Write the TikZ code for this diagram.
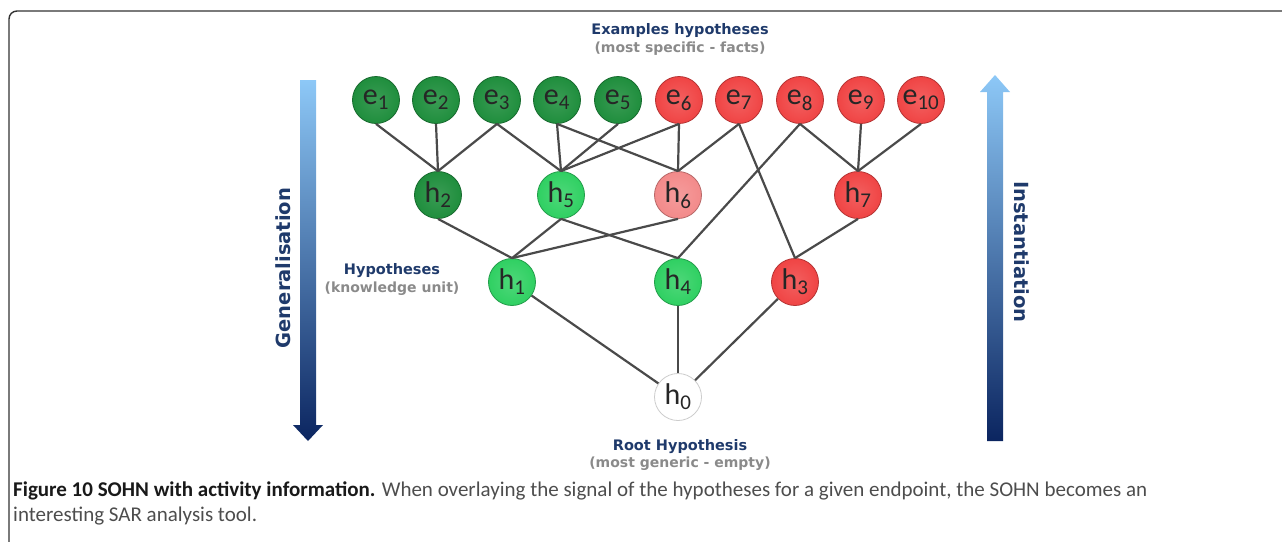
\documentclass[tikz,border=0pt]{standalone}
\usepackage{fontspec}
\setmainfont{Carlito}
\newfontfamily\headfont{DejaVu Sans}
\usepackage{xcolor}
\definecolor{sohnNavy}{HTML}{1F3A6B}
\definecolor{sohnGray}{HTML}{8A8A8A}
\definecolor{sohnEdge}{HTML}{4A4A4A}
\definecolor{sohnDarkGreen}{HTML}{1F8E3D}
\definecolor{sohnGreen}{HTML}{2FD062}
\definecolor{sohnRed}{HTML}{F04444}
\definecolor{sohnPink}{HTML}{F38A8A}
\definecolor{sohnSky}{HTML}{8DC8F7}
\definecolor{sohnDeep}{HTML}{0B2560}
\definecolor{sohnText}{HTML}{4D4D4D}
\usepackage{tikz}
\usetikzlibrary{positioning}
\tikzset{
    hyp/.style={
        circle,
        minimum size=47pt,
        inner sep=0pt,
        line width=0.8pt,
        text=black!85,
        font=\fontsize{30}{30}\selectfont
    },
    darkgreen/.style={hyp, inner color=sohnDarkGreen!88!white, outer color=sohnDarkGreen, draw=sohnDarkGreen!75!black},
    lightgreen/.style={hyp, inner color=sohnGreen!85!white, outer color=sohnGreen, draw=sohnGreen!75!black},
    redhyp/.style={hyp, inner color=sohnRed!85!white, outer color=sohnRed, draw=sohnRed!75!black},
    pinkhyp/.style={hyp, inner color=sohnPink!85!white, outer color=sohnPink, draw=sohnPink!75!black},
    emptyhyp/.style={hyp, fill=white, draw=black!20},
    link/.style={
        draw=sohnEdge,
        line width=2.2pt
    },
    headline/.style={
        font=\headfont\bfseries\fontsize{14.5}{16}\selectfont,
        text=sohnNavy,
        inner sep=0pt
    },
    subline/.style={
        font=\headfont\bfseries\fontsize{14}{16}\selectfont,
        text=sohnGray,
        inner sep=0pt
    },
    sideline/.style={
        font=\headfont\bfseries\fontsize{19.5}{21}\selectfont,
        text=sohnNavy,
        inner sep=0pt
    },
    flow/.style={
        top color=sohnSky,
        bottom color=sohnDeep
    },
    caption/.style={
        font=\fontsize{21}{25}\selectfont,
        text=sohnText,
        align=left,
        inner sep=0pt
    }
}
\begin{document}
\begin{tikzpicture}[x=1pt, y=-1pt]
    \useasboundingbox (0,0) rectangle (1282,541);
    % frame
    \draw[line width=1.4pt, black!80, rounded corners=8pt] (1290,11) -- (9,11) -- (9,550);

    % side arrows
    \shade[flow] (300,80) -- (316,80) -- (316,425) -- (323,425) -- (308,441) -- (293,425) -- (300,425) -- cycle;
    \shade[flow] (987,441) -- (1003,441) -- (1003,92) -- (1010,92) -- (995,75) -- (980,92) -- (987,92) -- cycle;
    \node[sideline, rotate=90] (gen) at (283,268) {Generalisation};
    \node[sideline, rotate=-90] (inst) at (1022,252) {Instantiation};

    % example hypotheses
    \node[darkgreen] (e1) at (376,100) {e\textsubscript{1}};
    \node[darkgreen] (e2) at (436,100) {e\textsubscript{2}};
    \node[darkgreen] (e3) at (497,100) {e\textsubscript{3}};
    \node[darkgreen] (e4) at (557,100) {e\textsubscript{4}};
    \node[darkgreen] (e5) at (618,100) {e\textsubscript{5}};
    \node[redhyp] (e6) at (679,100) {e\textsubscript{6}};
    \node[redhyp] (e7) at (739,100) {e\textsubscript{7}};
    \node[redhyp] (e8) at (800,100) {e\textsubscript{8}};
    \node[redhyp] (e9) at (861,100) {e\textsubscript{9}};
    \node[redhyp] (e10) at (921,100) {e\textsubscript{10}};

    % hypotheses
    \node[darkgreen] (h2) at (438,195) {h\textsubscript{2}};
    \node[lightgreen] (h5) at (561,195) {h\textsubscript{5}};
    \node[pinkhyp] (h6) at (678,195) {h\textsubscript{6}};
    \node[redhyp] (h7) at (858,195) {h\textsubscript{7}};
    \node[lightgreen] (h1) at (512,282) {h\textsubscript{1}};
    \node[lightgreen] (h4) at (678,282) {h\textsubscript{4}};
    \node[redhyp] (h3) at (795,282) {h\textsubscript{3}};
    \node[emptyhyp] (h0) at (678,397) {h\textsubscript{0}};

    % texts
    \node[headline] (exTitle) at (680,31) {Examples hypotheses};
    \node[subline] (exSub) at (680,49) {(most specific - facts)};
    \node[headline] (hypTitle) at (392,271) {Hypotheses};
    \node[subline] (hypSub) at (392,289) {(knowledge unit)};
    \node[headline] (rootTitle) at (680,447) {Root Hypothesis};
    \node[subline] (rootSub) at (680,464) {(most generic - empty)};

    % links
    \draw[link] (e1.south) -- (h2.north);
    \draw[link] (e2.south) -- (h2.north);
    \draw[link] (e3.south) -- (h2.north);
    \draw[link] (e3.south) -- (h5.north);
    \draw[link] (e4.south) -- (h5.north);
    \draw[link] (e4.south) -- (h6.north);
    \draw[link] (e5.south) -- (h5.north);
    \draw[link] (e6.south) -- (h5.north);
    \draw[link] (e6.south) -- (h6.north);
    \draw[link] (e7.south) -- (h6.north);
    \draw[link] (e7.south) -- (h3.north);
    \draw[link] (e8.south) -- (h4.north);
    \draw[link] (e8.south) -- (h7.north);
    \draw[link] (e9.south) -- (h7.north);
    \draw[link] (e10.south) -- (h7.north);
    \draw[link] (h2.south) -- (h1.north);
    \draw[link] (h5.south) -- (h1.north);
    \draw[link] (h6.south) -- (h1.north);
    \draw[link] (h5.south) -- (h4.north);
    \draw[link] (h7.south) -- (h3.north);
    \draw[link] (h1) -- (h0);
    \draw[link] (h4) -- (h0);
    \draw[link] (h3) -- (h0);

    % caption
    \node[caption, anchor=north west] (cap) at (13,482) {{\bfseries\color{black!90}Figure 10 SOHN with activity information.} When overlaying the signal of the hypotheses for a given endpoint, the SOHN becomes an\\interesting SAR analysis tool.};
\end{tikzpicture}
\end{document}
